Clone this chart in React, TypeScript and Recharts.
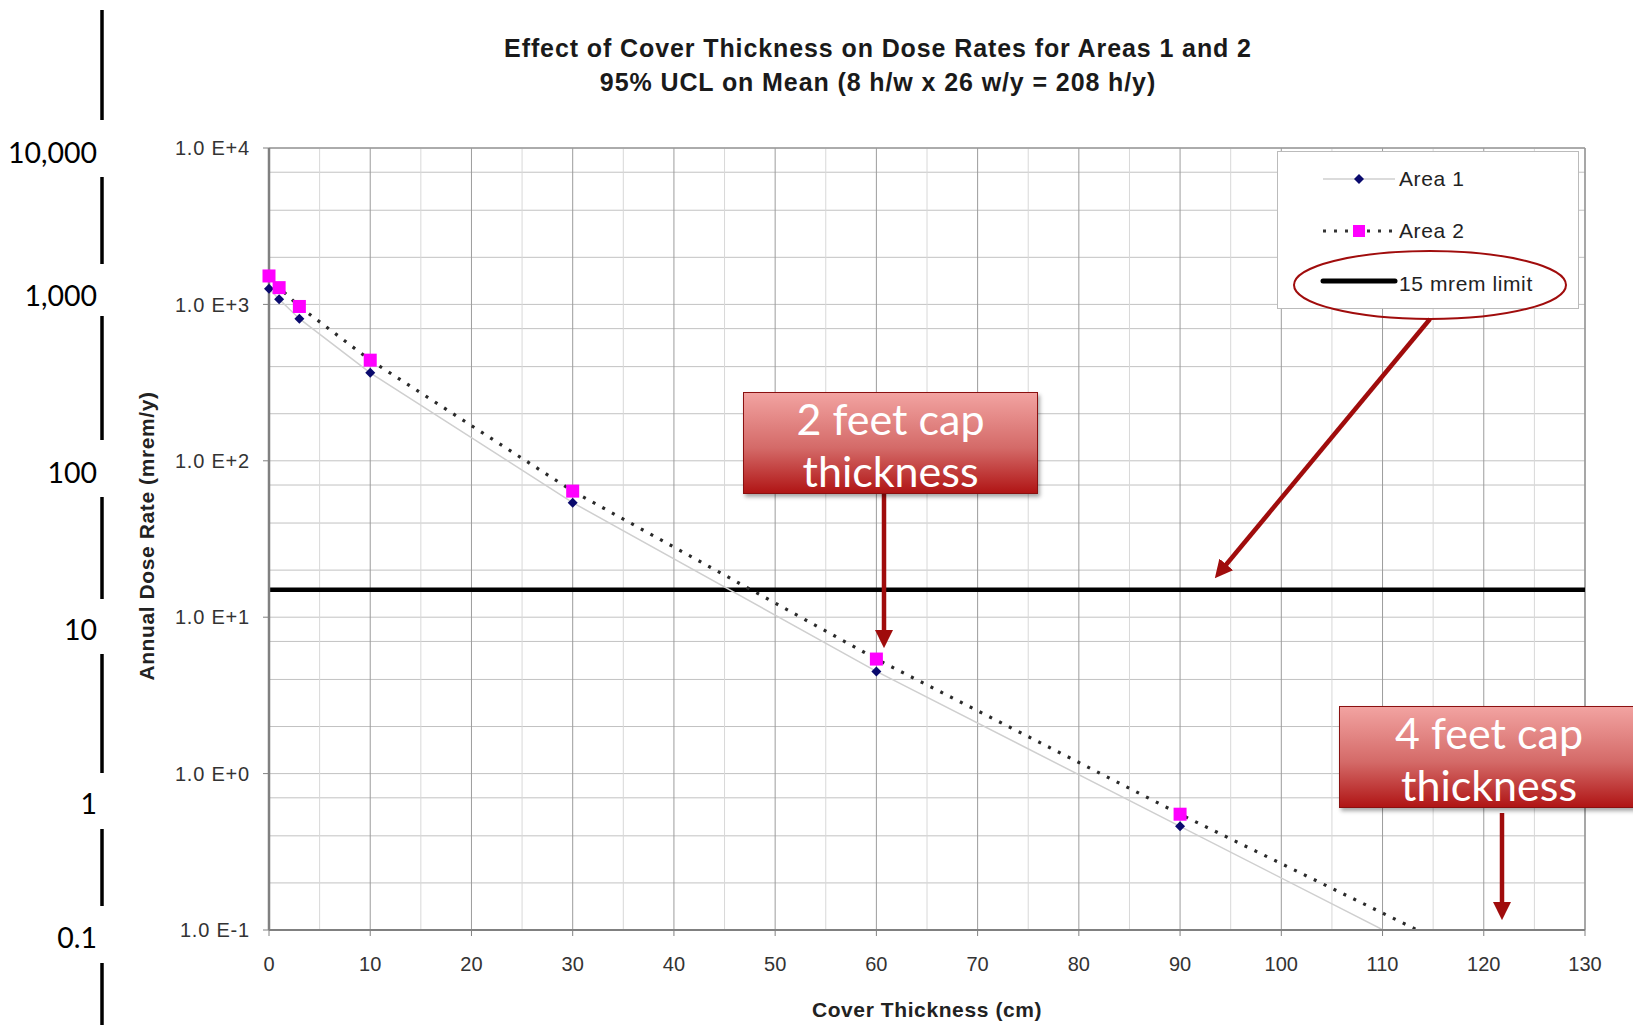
import React from 'react';
import {
  LineChart, Line, XAxis, YAxis, CartesianGrid, ReferenceLine, Legend,
} from 'recharts';

// cover thickness (cm) and 95% UCL annual dose (mrem/y)
const THICKNESS_CM = [0, 1, 3, 10, 30, 60, 90, 120];
const AREA1_DOSE = [1260, 1080, 810, 365, 54, 4.5, 0.46, 0.047];
const AREA2_DOSE = [1520, 1280, 970, 440, 64, 5.4, 0.55, 0.062];
const LIMIT_MREM = 15;

const X_TICKS = [0, 10, 20, 30, 40, 50, 60, 70, 80, 90, 100, 110, 120, 130];
const X_MINOR = [5, 15, 25, 35, 45, 55, 65, 75, 85, 95, 105, 115, 125];
const Y_TICKS = [0.1, 1, 10, 100, 1000, 10000];
const Y_MIN = 0.1;
const Y_MAX = 10000;

// hand-drawn side scale on the slide
const SIDE_LABELS = ['10,000', '1,000', '100', '10', '1', '0.1'];

const rows = THICKNESS_CM.map((x, i) => ({ x, area1: AREA1_DOSE[i], area2: AREA2_DOSE[i] }));

// minor log gridlines 2..9 x each decade
const yGrid: number[] = [];
Y_TICKS.forEach((d) => {
  yGrid.push(d);
  if (d < Y_MAX) for (let k = 2; k <= 9; k++) yGrid.push(+(d * k).toPrecision(3));
});

const fmtExp = (v: number) => {
  const e = Math.round(Math.log10(v));
  return `1.0 E${e >= 0 ? '+' : ''}${e}`;
};

const FONT = 'Liberation Sans, Arial, sans-serif';

const Diamond = (props: any) => {
  const { cx, cy, value, index } = props;
  if (value < Y_MIN || cx == null) return <g key={`d${index}`} />;
  const r = 5;
  return (
    <path key={`d${index}`} d={`M${cx},${cy - r} L${cx + r},${cy} L${cx},${cy + r} L${cx - r},${cy} Z`} fill="#0a0a6e" />
  );
};

const Square = (props: any) => {
  const { cx, cy, value, index } = props;
  if (value < Y_MIN || cx == null) return <g key={`s${index}`} />;
  const r = 6.5;
  return <rect key={`s${index}`} x={cx - r} y={cy - r} width={r * 2} height={r * 2} fill="#ff00ff" />;
};

const LegendBox = () => {
  const item = (y: number, sample: React.ReactNode, text: string) => (
    <g>
      {sample}
      <text x={122} y={y + 7} fontSize={21} letterSpacing={0.6} fill="#222" fontFamily={FONT}>{text}</text>
    </g>
  );
  return (
    <svg width={302} height={158} style={{ display: 'block' }}>
      <rect x={0.5} y={0.5} width={301} height={157} fill="#fff" stroke="#bbb" />
      {item(28, (
        <g>
          <line x1={46} y1={28} x2={118} y2={28} stroke="#cfcfcf" strokeWidth={1.5} />
          <path d="M82,23 L87,28 L82,33 L77,28 Z" fill="#0a0a6e" />
        </g>
      ), 'Area 1')}
      {item(80, (
        <g>
          <line x1={46} y1={80} x2={118} y2={80} stroke="#333" strokeWidth={3} strokeDasharray="3 8" />
          <rect x={76} y={74} width={12} height={12} fill="#ff00ff" />
        </g>
      ), 'Area 2')}
      {item(133, (
        <line x1={46} y1={130} x2={118} y2={130} stroke="#000" strokeWidth={5} strokeLinecap="round" />
      ), '15 mrem limit')}
    </svg>
  );
};

const boxStyle: React.CSSProperties = {
  position: 'absolute',
  background: 'linear-gradient(to bottom, #f2a3a1 0%, #d46a68 55%, #b01515 100%)',
  border: '1px solid #8a1010',
  boxShadow: '2px 3px 4px rgba(0,0,0,0.35)',
  color: '#fff',
  fontFamily: 'Lato, "Open Sans", sans-serif',
  fontSize: 43,
  lineHeight: '52px',
  textAlign: 'center',
  boxSizing: 'border-box',
};

const sideFont: React.CSSProperties = {
  position: 'absolute',
  fontFamily: 'Lato, "Open Sans", sans-serif',
  fontSize: 28.5,
  color: '#000',
  textAlign: 'right',
  width: 97,
  left: 0,
  lineHeight: '30px',
};

export default function App() {
  const sideY = [152, 295, 472, 629, 803, 937];
  const sideSegs = [[10, 120], [177, 264], [316, 440], [497, 599], [654, 773], [829, 906], [963, 1025]];
  return (
    <div style={{ position: 'absolute', left: 0, top: 0, width: 1633, height: 1025, background: '#fff', overflow: 'hidden' }}>
      <LineChart width={1633} height={1025} data={rows} margin={{ top: 148, right: 48, bottom: 55, left: 100 }}>
        <CartesianGrid horizontalValues={yGrid} vertical={false} stroke="#c2c2c2" />
        <CartesianGrid verticalValues={X_MINOR} horizontal={false} stroke="#d8d8d8" />
        <CartesianGrid verticalValues={X_TICKS} horizontal={false} stroke="#9c9c9c" />
        <ReferenceLine y={Y_MAX} stroke="#9a9a9a" strokeWidth={1.5} />
        <ReferenceLine x={130} stroke="#9a9a9a" strokeWidth={1.5} />
        <XAxis
          dataKey="x"
          type="number"
          domain={[0, 130]}
          ticks={X_TICKS}
          height={40}
          axisLine={{ stroke: '#808080', strokeWidth: 2 }}
          tickLine={{ stroke: '#808080' }}
          tickSize={6}
          tickMargin={21}
          tick={{ fill: '#333', fontSize: 20, fontFamily: FONT }}
        />
        <YAxis
          type="number"
          scale="log"
          domain={[Y_MIN, Y_MAX]}
          allowDataOverflow
          ticks={Y_TICKS}
          tickFormatter={fmtExp}
          width={169}
          axisLine={{ stroke: '#808080', strokeWidth: 2.5 }}
          tickLine={{ stroke: '#808080' }}
          tickSize={6}
          tickMargin={13}
          tick={{ fill: '#333', fontSize: 20, fontFamily: FONT, letterSpacing: 0.8 }}
        />
        <ReferenceLine y={LIMIT_MREM} stroke="#000" strokeWidth={4.5} />
        <Line dataKey="area1" name="Area 1" stroke="#cfcfcf" strokeWidth={1.5} dot={Diamond} activeDot={false} isAnimationActive={false} />
        <Line dataKey="area2" name="Area 2" stroke="#2a2a2a" strokeWidth={3.2} strokeDasharray="3 8" dot={Square} activeDot={false} isAnimationActive={false} />
        <Legend
          layout="vertical"
          align="center"
          verticalAlign="middle"
          content={LegendBox}
          wrapperStyle={{ position: 'absolute', left: 1277, top: 151, width: 302, height: 158 }}
        />
      </LineChart>

      {/* titles */}
      <div style={{ position: 'absolute', left: 0, width: 1756, top: 31, textAlign: 'center', fontFamily: FONT, fontWeight: 'bold', fontSize: 25, letterSpacing: 0.9, lineHeight: '34px', color: '#1a1a1a' }}>
        Effect of Cover Thickness on Dose Rates for Areas 1 and 2<br />
        95% UCL on Mean (8 h/w x 26 w/y = 208 h/y)
      </div>
      <div style={{ position: 'absolute', left: 147, top: 536, transform: 'translate(-50%, -50%) rotate(-90deg)', whiteSpace: 'nowrap', fontFamily: FONT, fontWeight: 'bold', fontSize: 21, letterSpacing: 0.6, color: '#222' }}>
        Annual Dose Rate (mrem/y)
      </div>
      <div style={{ position: 'absolute', left: 927, top: 1010, transform: 'translate(-50%, -50%)', whiteSpace: 'nowrap', fontFamily: FONT, fontWeight: 'bold', fontSize: 21, letterSpacing: 0.6, color: '#222' }}>
        Cover Thickness (cm)
      </div>

      {/* side scale */}
      {SIDE_LABELS.map((t, i) => (
        <div key={t} style={{ ...sideFont, top: sideY[i] - 15 }}>{t}</div>
      ))}

      <svg width={1633} height={1025} style={{ position: 'absolute', left: 0, top: 0, pointerEvents: 'none' }}>
        <defs>
          <marker id="ah" markerWidth="4" markerHeight="4" refX="2.2" refY="2" orient="auto" markerUnits="strokeWidth">
            <path d="M0,0 L4,2 L0,4 Z" fill="#a00c0c" />
          </marker>
        </defs>
        {sideSegs.map(([a, b], i) => (
          <line key={i} x1={102} y1={a} x2={102} y2={b} stroke="#000" strokeWidth={3.5} />
        ))}
        <ellipse cx={1430} cy={285} rx={136} ry={34} fill="none" stroke="#a00c0c" strokeWidth={2} />
        <line x1={1430} y1={319} x2={1220} y2={572} stroke="#a00c0c" strokeWidth={4.5} markerEnd="url(#ah)" />
        <line x1={884} y1={494} x2={884} y2={640} stroke="#a00c0c" strokeWidth={4.5} markerEnd="url(#ah)" />
        <line x1={1502} y1={813} x2={1502} y2={912} stroke="#a00c0c" strokeWidth={4.5} markerEnd="url(#ah)" />
      </svg>

      <div style={{ ...boxStyle, left: 743, top: 392, width: 295, height: 102 }}>
        2 feet cap<br />thickness
      </div>
      <div style={{ ...boxStyle, left: 1339, top: 706, width: 300, height: 102 }}>
        4 feet cap<br />thickness
      </div>
    </div>
  );
}
